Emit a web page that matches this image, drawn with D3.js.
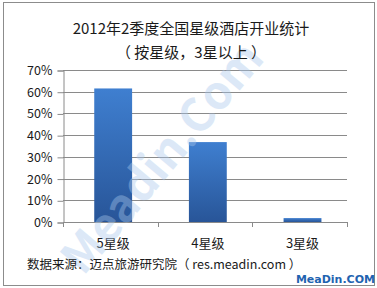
<!DOCTYPE html>
<html>
<head>
<meta charset="utf-8">
<script src="https://cdn.jsdelivr.net/npm/d3@7"></script>
<style>
  body { margin: 0; background: #fff; }
  text { font-family: "Noto Sans CJK SC", "Noto Sans", sans-serif; fill: #1a1a1a; }
</style>
</head>
<body>
<div id="chart"></div>
<script>
// chart values
const categories = ["5星级", "4星级", "3星级"];
const shares = [61.5, 36.8, 1.8];
const yTicks = [0, 10, 20, 30, 40, 50, 60, 70];
const titleText = "2012年2季度全国星级酒店开业统计";
const subtitleText = "（ 按星级，3星以上 ）";
const sourceText = "数据来源：迈点旅游研究院（ res.meadin.com ）";

const width = 377;
const height = 288;
const plot = { left: 63, right: 347, top: 70, bottom: 222 };

const svg = d3.select("#chart")
  .append("svg")
  .attr("width", width)
  .attr("height", height);

// bar gradient
const grad = svg.append("defs")
  .append("linearGradient")
  .attr("id", "barGrad")
  .attr("x1", 0).attr("y1", 0)
  .attr("x2", 0).attr("y2", 1);
grad.append("stop").attr("offset", "0%").attr("stop-color", "#3f7fd0");
grad.append("stop").attr("offset", "100%").attr("stop-color", "#285598");

// outer frame
svg.append("rect")
  .attr("x", 3.5).attr("y", 2.5)
  .attr("width", 371).attr("height", 283)
  .attr("fill", "#fff")
  .attr("stroke", "#8c8c8c");

// scales
const x = d3.scaleBand()
  .domain(categories)
  .range([plot.left, plot.right])
  .paddingInner(0.6)
  .paddingOuter(0.3)
  .align(0.55);

const y = d3.scaleLinear()
  .domain([0, 70])
  .range([plot.bottom, plot.top]);

// gridlines
svg.append("g")
  .selectAll("line")
  .data(yTicks.slice(1))
  .join("line")
  .attr("x1", plot.left).attr("x2", plot.right)
  .attr("y1", (d) => Math.round(y(d)) + 0.5)
  .attr("y2", (d) => Math.round(y(d)) + 0.5)
  .attr("stroke", "#8a8a8a");

// y axis
const yAxis = svg.append("g")
  .attr("transform", `translate(${plot.left + 0.5},0.5)`)
  .call(d3.axisLeft(y).tickValues(yTicks).tickSize(6).tickPadding(5)
    .tickFormat((d) => d + "%"));
yAxis.select(".domain").attr("stroke", "#8a8a8a");
yAxis.selectAll(".tick line").attr("stroke", "#8a8a8a");
yAxis.selectAll("text").style("font-size", "12.5px").attr("fill", "#1a1a1a");

// x axis
svg.append("line")
  .attr("x1", plot.left).attr("x2", plot.right)
  .attr("y1", plot.bottom + 0.5).attr("y2", plot.bottom + 0.5)
  .attr("stroke", "#8a8a8a");

const step = (plot.right - plot.left) / categories.length;
svg.append("g")
  .selectAll("line")
  .data(d3.range(categories.length + 1))
  .join("line")
  .attr("x1", (i) => Math.round(plot.left + i * step) + 0.5)
  .attr("x2", (i) => Math.round(plot.left + i * step) + 0.5)
  .attr("y1", plot.bottom)
  .attr("y2", plot.bottom + 5)
  .attr("stroke", "#8a8a8a");

svg.append("g")
  .selectAll("text")
  .data(categories)
  .join("text")
  .attr("x", (d) => x(d) + x.bandwidth() / 2)
  .attr("y", 248)
  .attr("text-anchor", "middle")
  .style("font-size", "13px")
  .text((d) => d);

// bars
svg.append("g")
  .selectAll("rect")
  .data(categories)
  .join("rect")
  .attr("x", (d) => x(d))
  .attr("y", (d, i) => y(shares[i]))
  .attr("width", x.bandwidth())
  .attr("height", (d, i) => plot.bottom - y(shares[i]))
  .attr("fill", "url(#barGrad)");

// watermark
svg.append("text")
  .attr("transform", "translate(165,160) rotate(-50)")
  .attr("text-anchor", "middle")
  .attr("dominant-baseline", "middle")
  .style("font-size", "46px")
  .style("font-weight", "bold")
  .style("fill", "#a9c8ec")
  .style("opacity", 0.4)
  .text("Meadin.Com");

// titles
svg.append("text")
  .attr("x", 191).attr("y", 34)
  .attr("text-anchor", "middle")
  .style("font-size", "15px")
  .text(titleText);

svg.append("text")
  .attr("x", 191).attr("y", 58)
  .attr("text-anchor", "middle")
  .style("font-size", "15px")
  .text(subtitleText);

// source line
svg.append("text")
  .attr("x", 27).attr("y", 269)
  .style("font-size", "12.5px")
  .text(sourceText);

svg.append("text")
  .attr("x", 375).attr("y", 283)
  .attr("text-anchor", "end")
  .style("font-size", "11px")
  .style("font-weight", "bold")
  .style("font-family", "'DejaVu Sans', sans-serif")
  .style("fill", "#1f63b0")
  .text("MeaDin.COM");
</script>
</body>
</html>
